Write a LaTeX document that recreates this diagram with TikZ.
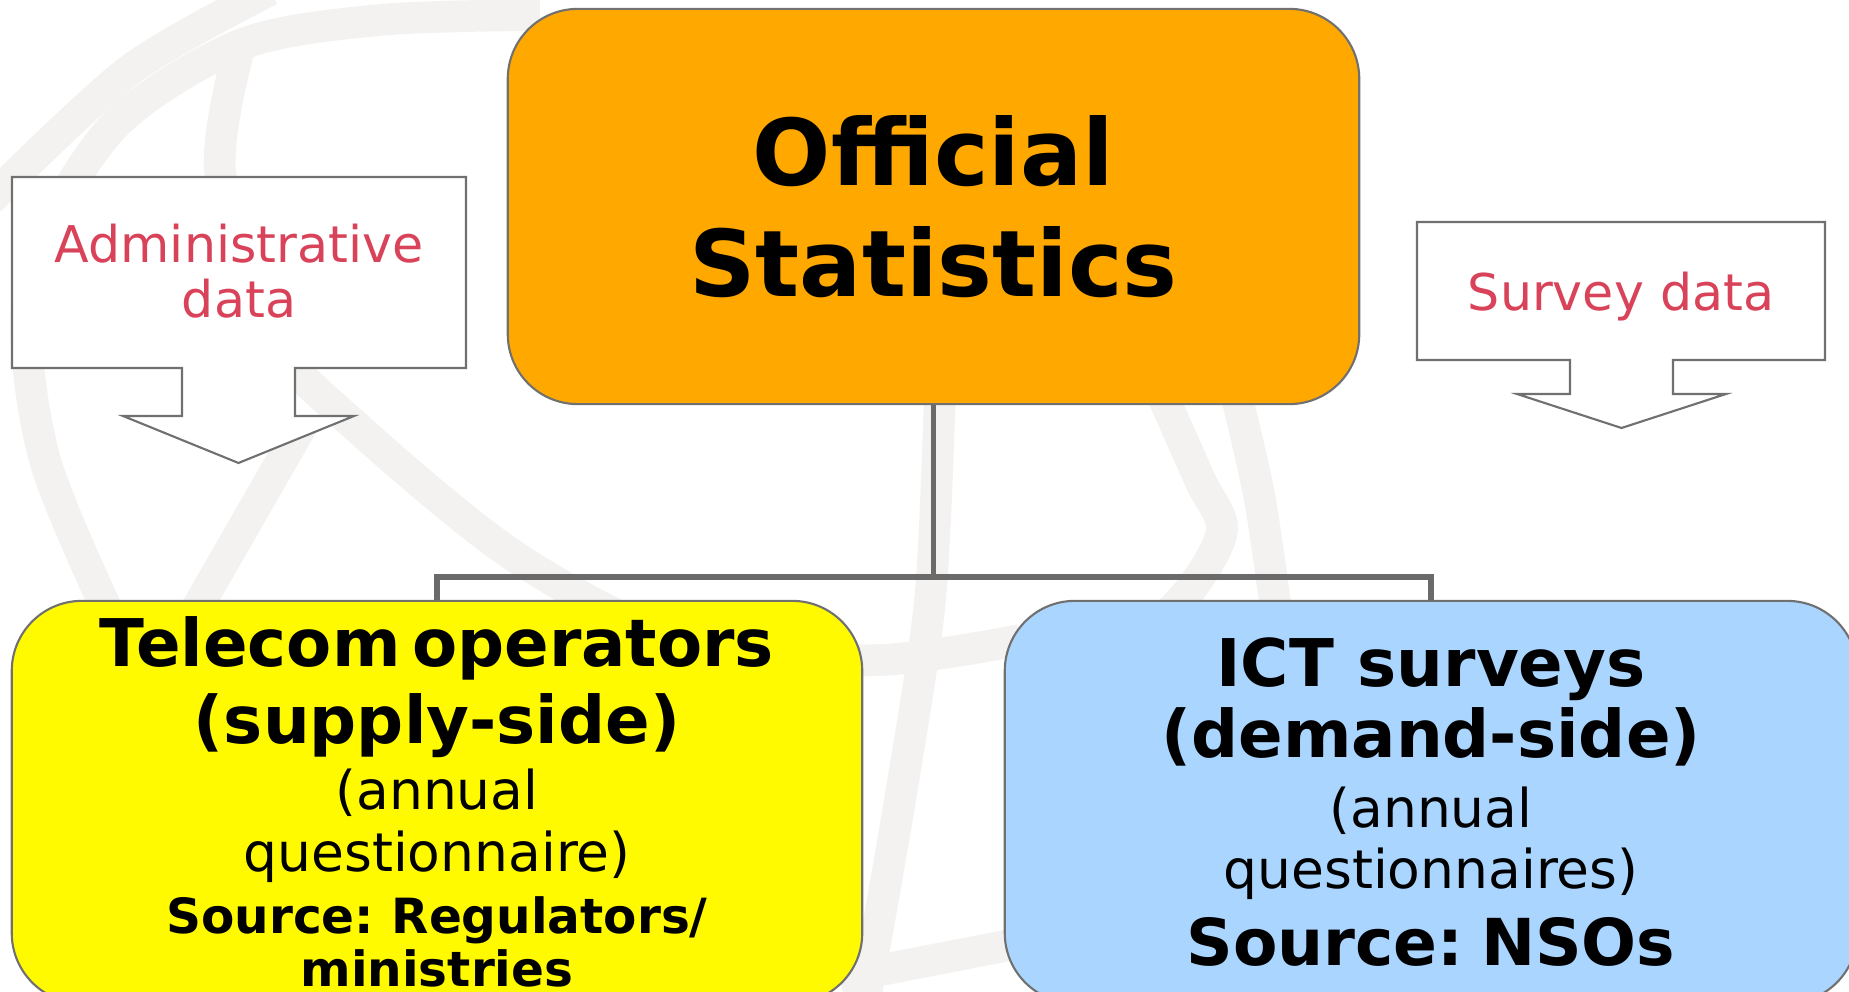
\documentclass[tikz,border=0pt]{standalone}
\usepackage{fontspec}
\setmainfont{DejaVu Sans}
\usetikzlibrary{positioning}

\definecolor{statorange}{HTML}{FFA800}
\definecolor{supplyyellow}{HTML}{FFFA00}
\definecolor{demandblue}{HTML}{A9D5FF}
\definecolor{datared}{HTML}{D9435A}
\definecolor{edgegray}{HTML}{707070}
\definecolor{linkgray}{HTML}{6A6A6A}
\definecolor{globegray}{HTML}{F3F2F1}

\begin{document}
\begin{tikzpicture}[
    x=0.01cm, y=-0.01cm,
    box/.style={draw=edgegray, line width=0.6pt, rounded corners=0.7cm, align=center, inner sep=0pt},
    callout/.style={draw=edgegray, line width=0.6pt, fill=white},
    datatext/.style={text=datared, align=center, inner sep=0pt, font=\fontsize{14.4}{15.7}\selectfont},
    link/.style={draw=linkgray, line width=1.6pt},
    globe/.style={globegray, line width=9pt}
  ]

  \useasboundingbox (0,0) rectangle (1849,992);
  \clip (0,0) rectangle (1849,992);

  % faint globe behind everything
  \draw[globe] plot[smooth] coordinates {(270,-10) (130,70) (-10,200)};
  \draw[globe] plot[smooth] coordinates {(540,15) (380,20) (240,45) (110,130) (30,280) (45,460) (140,680)};
  \draw[globe] plot[smooth] coordinates {(240,45) (220,170) (265,330) (360,430) (520,560) (700,650) (880,660) (1020,640)};
  \draw[globe] (305,420) -- (150,690);
  \draw[globe] plot[smooth] coordinates {(940,390) (930,600) (900,800) (865,1000)};
  \draw[globe] plot[smooth] coordinates {(1160,390) (1200,480) (1222,530) (1190,590) (1130,650)};
  \draw[globe] plot[smooth] coordinates {(1235,390) (1260,500) (1280,640)};
  \draw[globe] (840,978) -- (1010,945);

  % down-arrow callouts
  \draw[callout] (12,177) -- ++(454,0) -- ++(0,191) -- ++(-171,0) -- ++(0,48) -- ++(59,0)
    -- ++(-115.5,47) -- ++(-115.5,-47) -- ++(59,0) -- ++(0,-48) -- ++(-170,0) -- cycle;
  \node[datatext] (adm) at (239,271) {Administrative\\data};

  \draw[callout] (1417,222) -- ++(408,0) -- ++(0,138) -- ++(-152,0) -- ++(0,34) -- ++(53,0)
    -- ++(-104.5,34) -- ++(-104.5,-34) -- ++(53,0) -- ++(0,-34) -- ++(-153,0) -- cycle;
  \node[datatext] (srv) at (1621,297) {Survey data};

  % boxes
  \node[box, fill=statorange, text width=8.51cm, minimum height=3.95cm] (stat) at (933.5,206.5)
    {\fontsize{26.2}{31.5}\selectfont\bfseries Official\par Statistics\par\vspace{-3pt}};

  \node[box, fill=supplyyellow, text width=8.5cm, minimum height=4.02cm] (telecom) at (437,802)
    {{\fontsize{18.7}{21.8}\selectfont\bfseries Telecom\ operators\par (supply-side)\par}
     {\fontsize{15.2}{18.8}\selectfont (annual\par}
     {\fontsize{15.2}{17.7}\selectfont questionnaire)\par}
     {\fontsize{13.8}{17.7}\selectfont\bfseries Source: Regulators/\par}
     {\fontsize{13.8}{15}\selectfont\bfseries ministries\par}};

  \node[box, fill=demandblue, text width=8.52cm, minimum height=4.02cm] (ict) at (1431,802)
    {{\fontsize{18.7}{20}\selectfont\bfseries ICT\hspace{0.36em}surveys\par (demand-side)\par}
     {\fontsize{15.2}{20}\selectfont (annual\par}
     {\fontsize{15.2}{17.4}\selectfont questionnaires)\par}
     {\fontsize{18.4}{21.7}\selectfont\bfseries Source: NSOs\par}};

  % tree lines
  \coordinate (bus) at (933.5,577);
  \draw[link] (stat.south) -- (bus) -| (telecom.north);
  \draw[link] (bus) -| (ict.north);

\end{tikzpicture}
\end{document}
